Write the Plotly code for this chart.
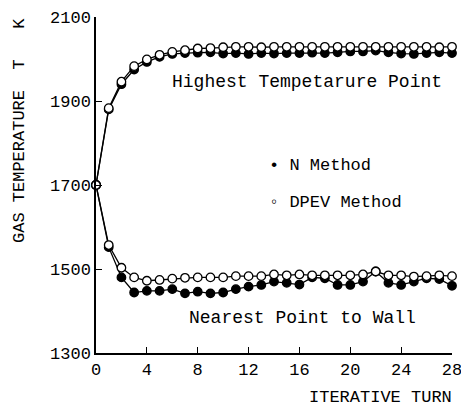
import plotly.graph_objects as go

turns = list(range(0, 29))

high_n = [1700, 1880, 1940, 1975, 1993, 2005, 2012, 2014, 2015, 2016, 2013, 2014, 2012, 2014, 2013,
          2014, 2014, 2015, 2014, 2016, 2018, 2018, 2020, 2016, 2013, 2012, 2014, 2016, 2014]
high_dpev = [1700, 1883, 1946, 1983, 1999, 2010, 2017, 2021, 2025, 2026, 2028, 2029, 2029, 2028, 2029,
             2029, 2029, 2029, 2029, 2029, 2029, 2029, 2029, 2029, 2029, 2029, 2029, 2028, 2029]
near_n = [1700, 1552, 1480, 1444, 1448, 1448, 1452, 1442, 1446, 1442, 1444, 1452, 1458, 1462, 1470,
          1467, 1463, 1480, 1478, 1462, 1462, 1470, 1494, 1467, 1462, 1470, 1478, 1476, 1460]
near_dpev = [1700, 1557, 1503, 1480, 1472, 1474, 1477, 1479, 1480, 1480, 1480, 1483, 1483, 1483, 1487,
             1485, 1487, 1485, 1485, 1485, 1485, 1487, 1494, 1485, 1485, 1482, 1483, 1485, 1483]

x_ticks = [0, 4, 8, 12, 16, 20, 24, 28]
y_ticks = [1300, 1500, 1700, 1900, 2100]

FONT = "Liberation Mono"

fig = go.Figure()

def add_series(y, filled, name):
    fig.add_trace(go.Scatter(
        x=turns, y=y, mode="lines+markers", name=name, cliponaxis=False,
        line=dict(color="black", width=1.3),
        marker=dict(size=8.5, symbol="circle",
                    color="black" if filled else "white",
                    line=dict(color="black", width=1.3)),
        showlegend=False, hoverinfo="skip",
    ))

add_series(high_n, True, "N Method")
add_series(near_n, True, "N Method")
add_series(high_dpev, False, "DPEV Method")
add_series(near_dpev, False, "DPEV Method")

W, H = 461, 408
L, R, T, B = 96, 9, 17, 55

annotations = [
    dict(text="Highest Tempetarure Point", x=170, y=82, xanchor="left", font_size=18),
    dict(text="Nearest Point to Wall", x=187, y=318, xanchor="left", font_size=18),
    dict(text="• N Method", x=267, y=165, xanchor="left", font_size=17),
    dict(text="◦ DPEV Method", x=267, y=202, xanchor="left", font_size=17),
    dict(text="ITERATIVE TURN", x=454, y=397, xanchor="right", font_size=17),
    dict(text="GAS TEMPERATURE  T   K", x=19, y=131, xanchor="center", textangle=-90, font_size=17),
]
for a in annotations:
    fig.add_annotation(
        text=a["text"],
        x=(a["x"] - L) / (W - L - R),
        y=1 - (a["y"] - T) / (H - T - B),
        xref="paper", yref="paper",
        xanchor=a["xanchor"], yanchor="middle", showarrow=False,
        textangle=a.get("textangle", 0),
        font=dict(family=FONT, size=a["font_size"], color="black"),
    )

fig.update_layout(
    width=W, height=H,
    margin=dict(l=L, r=R, t=T, b=B, autoexpand=False),
    paper_bgcolor="white", plot_bgcolor="white",
    font=dict(family=FONT, size=17, color="black"),
)
fig.update_xaxes(
    range=[0, 28], tickvals=x_ticks, ticktext=[str(v) for v in x_ticks],
    showgrid=False, zeroline=False, showline=True, linecolor="black", linewidth=1.5,
    ticks="inside", ticklen=6, tickcolor="black", tickwidth=1.3,
    tickfont=dict(family=FONT, size=17), ticklabeloverflow="allow", automargin=False,
)
fig.update_yaxes(
    range=[1300, 2100], tickvals=y_ticks, ticktext=[str(v) for v in y_ticks],
    showgrid=False, zeroline=False, showline=True, linecolor="black", linewidth=1.5,
    ticks="inside", ticklen=6, tickcolor="black", tickwidth=1.3,
    tickfont=dict(family=FONT, size=17), ticklabeloverflow="allow", automargin=False,
)

fig.write_html(
    "out.html",
    config={"displayModeBar": False},
    post_script="document.body.style.margin='0';document.body.style.padding='0';",
)
